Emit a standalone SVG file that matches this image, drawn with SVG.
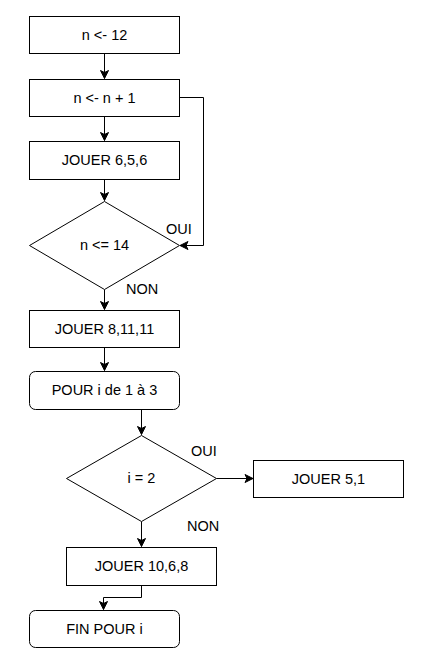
<svg xmlns="http://www.w3.org/2000/svg" width="425" height="665" viewBox="0 0 425 665">
<style>
.n{fill:#fff;stroke:#000;stroke-width:1}
.t{font-family:"Liberation Sans",Arial,sans-serif;font-size:14.5px;fill:#000;text-anchor:middle;dominant-baseline:central}
.l{font-family:"Liberation Sans",Arial,sans-serif;font-size:14.5px;fill:#000}
.c{fill:none;stroke:#000;stroke-width:1;marker-end:url(#a)}
</style>
<defs>
<marker id="a" viewBox="0 0 10 10" refX="9" refY="5" markerWidth="10" markerHeight="10" markerUnits="userSpaceOnUse" orient="auto">
<path d="M1,1 L9,5 L1,9 L3,5 Z" fill="#000" stroke="#000" stroke-width="1"/>
</marker>
</defs>
<rect width="425" height="665" fill="#fff"/>
<g id="connectors">
<path class="c" d="M104.5,53.5 V78.5"/>
<path class="c" d="M104.5,116.5 V140.5"/>
<path class="c" d="M179.5,97.5 H203.5 V245.5 H180"/>
<path class="c" d="M104.5,179.5 V200.5"/>
<path class="c" d="M104.5,289.5 V309.5"/>
<path class="c" d="M104.5,347.5 V370.5"/>
<path class="c" d="M141.5,409.5 V434.5"/>
<path class="c" d="M216.5,478.5 H253"/>
<path class="c" d="M141.5,521.5 V546.5"/>
<path class="c" d="M141.5,585.5 V597.5 H103.5 V609.5"/>
</g>
<g id="labels">
<text class="l" x="166" y="234">OUI</text>
<text class="l" x="126" y="294">NON</text>
<text class="l" x="191" y="456">OUI</text>
<text class="l" x="187" y="531">NON</text>
</g>
<g id="n1"><rect class="n" x="29.5" y="16.5" width="150" height="37"/><text class="t" x="104.5" y="35">n &lt;- 12</text></g>
<g id="n2"><rect class="n" x="29.5" y="79.5" width="150" height="37"/><text class="t" x="104.5" y="98">n &lt;- n + 1</text></g>
<g id="n3"><rect class="n" x="29.5" y="141.5" width="150" height="38"/><text class="t" x="104.5" y="160">JOUER 6,5,6</text></g>
<g id="d1"><polygon class="n" points="104.5,201.5 179.5,245.5 104.5,289.5 29.5,245.5"/><text class="t" x="104.5" y="245">n &lt;= 14</text></g>
<g id="n4"><rect class="n" x="29.5" y="310.5" width="150" height="37"/><text class="t" x="104.5" y="329">JOUER 8,11,11</text></g>
<g id="n5"><rect class="n" x="29.5" y="371.5" width="150" height="38" rx="6"/><text class="t" x="104.5" y="390">POUR i de 1 à 3</text></g>
<g id="d2"><polygon class="n" points="141.5,435.5 216.5,478.5 141.5,521.5 66.5,478.5"/><text class="t" x="141.5" y="478">i = 2</text></g>
<g id="n6"><rect class="n" x="253.5" y="460.5" width="150" height="37"/><text class="t" x="328.5" y="479">JOUER 5,1</text></g>
<g id="n7"><rect class="n" x="66.5" y="547.5" width="150" height="38"/><text class="t" x="141.5" y="566">JOUER 10,6,8</text></g>
<g id="n8"><rect class="n" x="29.5" y="610.5" width="150" height="37" rx="6"/><text class="t" x="104.5" y="629">FIN POUR i</text></g>
</svg>
